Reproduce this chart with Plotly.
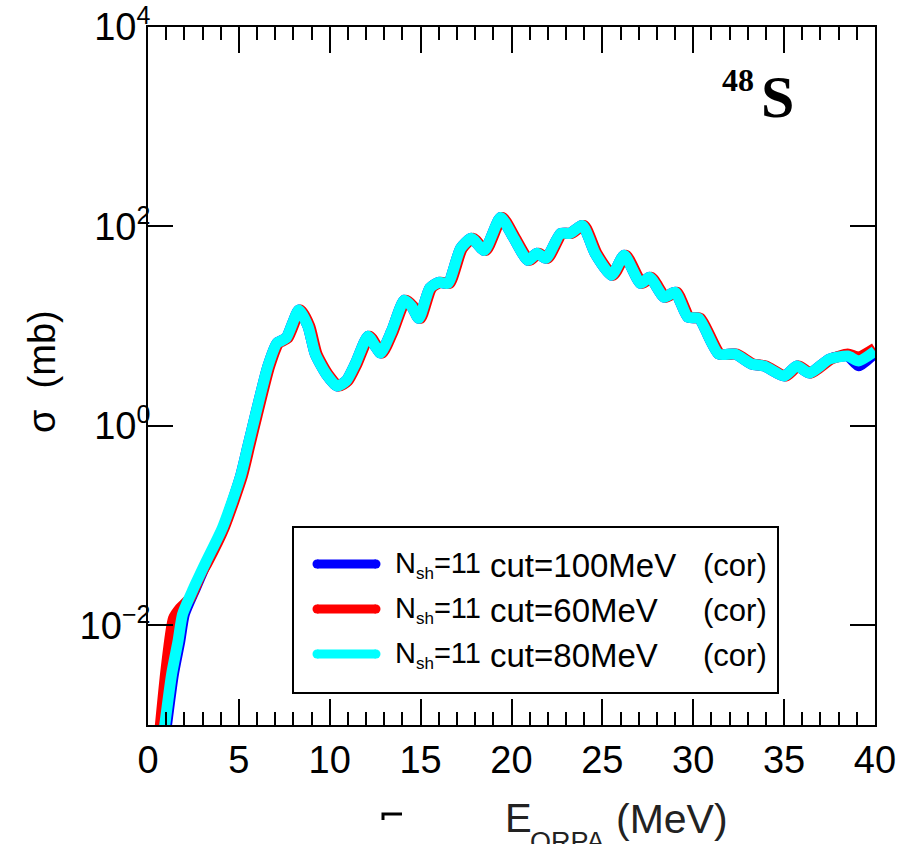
import plotly.graph_objects as go

# ---------------- data ----------------
E_cyan = [0.85, 1.3, 1.65, 1.9, 2.5, 3.2, 4.1, 5.1, 5.5, 5.9, 6.6, 7.1, 7.6, 8.3, 8.8, 9.2, 9.8,
          10.4, 10.9, 11.4, 12.1, 12.5, 12.8, 13.4, 14.1, 14.5, 14.9, 15.5, 16.0, 16.5, 17.2,
          17.8, 18.5, 19.4, 20.1, 20.9, 21.4, 21.9, 22.7, 23.2, 23.9, 24.6, 25.5, 26.2, 27.1,
          27.6, 28.4, 29.0, 29.7, 30.3, 31.4, 32.3, 33.2, 33.9, 35.0, 35.7, 36.4, 37.5, 38.5,
          39.1, 40.0]
sig_cyan = [7.9e-4, 3.24e-3, 6.9e-3, 0.0129, 0.0234, 0.0437, 0.0955, 0.316, 0.631, 1.26, 3.98,
            6.76, 7.59, 14.5, 10.0, 5.25, 3.31, 2.51, 2.82, 4.17, 7.94, 6.31, 5.37, 8.91, 18.2,
            15.8, 12.0, 24.0, 27.5, 26.9, 60.3, 75.9, 57.5, 123, 77.6, 45.7, 53.7, 47.9, 85.1,
            85.1, 102, 53.7, 32.4, 51.3, 26.9, 30.9, 19.5, 21.9, 12.3, 12.0, 5.25, 5.25, 4.17,
            3.98, 3.16, 3.98, 3.39, 4.68, 5.01, 4.47, 5.62]

E_blue = [0.95, 1.4, 1.75, 2.0, 2.6, 3.25, 4.15, 5.1, 5.5, 5.9, 6.6, 7.1, 7.6, 8.3, 8.8, 9.2, 9.8,
          10.4, 10.9, 11.4, 12.1, 12.5, 12.8, 13.4, 14.1, 14.5, 14.9, 15.5, 16.0, 16.5, 17.2,
          17.8, 18.5, 19.4, 20.1, 20.9, 21.4, 21.9, 22.7, 23.2, 23.9, 24.6, 25.5, 26.2, 27.1,
          27.6, 28.4, 29.0, 29.7, 30.3, 31.4, 32.3, 33.2, 33.9, 35.0, 35.7, 36.4, 37.5, 38.5,
          39.1, 40.0]
sig_blue = [7.9e-4, 3.24e-3, 6.9e-3, 0.0129, 0.0234, 0.0437, 0.0955, 0.316, 0.631, 1.26, 3.98,
            6.76, 7.59, 14.5, 10.0, 5.25, 3.31, 2.51, 2.82, 4.17, 7.94, 6.31, 5.37, 8.91, 18.2,
            15.8, 12.0, 24.0, 27.5, 26.9, 60.3, 75.9, 57.5, 123, 77.6, 45.7, 53.7, 47.9, 85.1,
            85.1, 102, 53.7, 32.4, 51.3, 26.9, 30.9, 19.5, 21.9, 12.3, 12.0, 5.25, 5.25, 4.17,
            3.98, 3.16, 3.98, 3.39, 4.68, 5.01, 4.0, 5.4]

E_red = [0.6, 1.0, 1.4, 1.77, 2.3, 2.9, 3.3, 4.2, 5.2, 5.6, 6.0, 6.7, 7.2, 7.7, 8.4, 8.9, 9.3, 9.9,
         10.5, 11.0, 11.5, 12.2, 12.6, 12.9, 13.5, 14.2, 14.6, 15.0, 15.6, 16.1, 16.6, 17.3,
         17.9, 18.6, 19.5, 20.2, 21.0, 21.5, 22.0, 22.8, 23.3, 24.0, 24.7, 25.6, 26.3, 27.2,
         27.7, 28.5, 29.1, 29.8, 30.4, 31.5, 32.4, 33.3, 34.0, 35.1, 35.8, 36.5, 37.6, 38.5,
         39.1, 40.0]
sig_red = [7.0e-4, 3.7e-3, 0.0117, 0.0148, 0.0186, 0.0324, 0.0437, 0.0955, 0.316, 0.631, 1.26,
           3.98, 6.76, 7.59, 14.5, 10.0, 5.25, 3.31, 2.51, 2.82, 4.17, 7.94, 6.31, 5.37, 8.91,
           18.2, 15.8, 12.0, 24.0, 27.5, 26.9, 60.3, 75.9, 57.5, 123, 77.6, 45.7, 53.7, 47.9,
           85.1, 85.1, 102, 53.7, 32.4, 51.3, 26.9, 30.9, 19.5, 21.9, 12.3, 12.0, 5.25, 5.25,
           4.17, 3.98, 3.16, 3.98, 3.39, 4.68, 5.25, 4.9, 6.0]

series_shells = ["N<sub>sh</sub>=11", "N<sub>sh</sub>=11", "N<sub>sh</sub>=11"]
series_cuts = ["cut=100MeV", "cut=60MeV", "cut=80MeV"]
series_tag = "(cor)"
series_colors = ["#0000ff", "#ff0000", "#00ffff"]
y_tickvals = [1e-2, 1, 1e2, 1e4]
y_ticktext = ["10<sup><span style='font-size:25px'>−2</span></sup>",
              "10<sup><span style='font-size:25px'>0</span></sup>",
              "10<sup><span style='font-size:25px'>2</span></sup>",
              "10<sup><span style='font-size:25px'>4</span></sup>"]
x_tickvals = [0, 5, 10, 15, 20, 25, 30, 35, 40]

# ---------------- layout helpers (pixel -> paper) ----------------
L, R, T, B = 148, 875, 27, 725
W, H = 909, 844


def px(x):
    return (x - L) / (R - L)


def py(y):
    return (B - y) / (B - T)


SANS = "Liberation Sans, Arial, sans-serif"
fig = go.Figure()
for E, s, c in [(E_blue, sig_blue, series_colors[0]), (E_red, sig_red, series_colors[1]),
                (E_cyan, sig_cyan, series_colors[2])]:
    fig.add_trace(go.Scatter(x=E, y=s, mode="lines", line=dict(color=c, width=11, shape="spline",
                                                                smoothing=0.6),
                             showlegend=False, hoverinfo="skip"))

shapes = []
annotations = []
# legend box
shapes.append(dict(type="rect", xref="paper", yref="paper", x0=px(293), x1=px(778), y0=py(527),
                   y1=py(693), line=dict(color="black", width=2), fillcolor="white", layer="above"))
leg_y = [564, 609, 654]
for shell, cut, col, yy in zip(series_shells, series_cuts, series_colors, leg_y):
    shapes.append(dict(type="line", xref="paper", yref="paper", x0=px(317), x1=px(376), y0=py(yy),
                       y1=py(yy), line=dict(color=col, width=9), layer="above"))
    for xc in (317, 376):
        shapes.append(dict(type="circle", xref="paper", yref="paper", xsizemode="pixel",
                           ysizemode="pixel", xanchor=px(xc), yanchor=py(yy), x0=-4.5, x1=4.5,
                           y0=-4.5, y1=4.5, fillcolor=col, line=dict(width=0), layer="above"))
    annotations.append(dict(xref="paper", yref="paper", x=px(393), y=py(yy + 1), xanchor="left",
                            yanchor="middle", showarrow=False,
                            text=shell.replace("<sub>sh</sub>",
                                               "<sub><span style='font-size:17px'>sh</span></sub>"),
                            font=dict(family=SANS, size=29, color="black")))
    annotations.append(dict(xref="paper", yref="paper", x=px(488), y=py(yy + 1), xanchor="left",
                            yanchor="middle", showarrow=False, text=cut,
                            font=dict(family=SANS, size=33, color="black")))
    annotations.append(dict(xref="paper", yref="paper", x=px(701), y=py(yy + 1), xanchor="left",
                            yanchor="middle", showarrow=False, text=series_tag,
                            font=dict(family=SANS, size=31, color="black")))

# nucleus label
annotations.append(dict(xref="paper", yref="paper", x=px(759), y=py(97), xanchor="left",
                        yanchor="middle", showarrow=False, text="<b>S</b>",
                        font=dict(family="Liberation Serif, serif", size=60, color="black")))
annotations.append(dict(xref="paper", yref="paper", x=px(720), y=py(80), xanchor="left",
                        yanchor="middle", showarrow=False, text="<b>48</b>",
                        font=dict(family="Liberation Serif, serif", size=32, color="black")))
# axis titles
annotations.append(dict(xref="paper", yref="paper", x=px(42), y=py(372), xanchor="center",
                        yanchor="middle", showarrow=False, text="σ  (mb)", textangle=-90,
                        font=dict(family=SANS, size=38, color="black")))
annotations.append(dict(xref="paper", yref="paper", x=px(503), y=py(794), xanchor="left",
                        yanchor="top", showarrow=False, text="E",
                        font=dict(family=SANS, size=40, color="#222222")))
annotations.append(dict(xref="paper", yref="paper", x=px(528), y=py(825), xanchor="left",
                        yanchor="top", showarrow=False, text="QRPA",
                        font=dict(family=SANS, size=27, color="#222222")))
annotations.append(dict(xref="paper", yref="paper", x=px(614), y=py(794), xanchor="left",
                        yanchor="top", showarrow=False, text="(MeV)",
                        font=dict(family=SANS, size=41, color="#222222")))
# small stray mark below the axis
shapes.append(dict(type="path", xref="paper", yref="paper",
                   path="M %f,%f L %f,%f L %f,%f" % (px(383), py(820), px(383), py(814), px(402),
                                                    py(814)),
                   line=dict(color="black", width=3)))

fig.update_layout(
    width=W, height=H, margin=dict(l=L, r=W - R, t=T, b=H - B),
    paper_bgcolor="white", plot_bgcolor="white", showlegend=False,
    shapes=shapes, annotations=annotations,
    xaxis=dict(range=[0, 40], tickvals=x_tickvals, ticks="inside", ticklen=26, tickwidth=2,
               tickcolor="black", showline=True, linecolor="black", linewidth=2, mirror="allticks",
               showgrid=False, zeroline=False, automargin=False,
               tickfont=dict(family=SANS, size=38, color="black"),
               minor=dict(dtick=1, tick0=0, ticks="inside", ticklen=13, tickwidth=1.5,
                          tickcolor="black", showgrid=False)),
    yaxis=dict(type="log", range=[-3, 4], tickvals=y_tickvals, ticktext=y_ticktext,
               ticks="inside", ticklen=25, tickwidth=2, tickcolor="black", showline=True,
               linecolor="black", linewidth=2, mirror="allticks", showgrid=False, zeroline=False,
               automargin=False, ticklabelstandoff=-12,
               tickfont=dict(family=SANS, size=38, color="black")),
)

fig.write_html("out.html", config={"displayModeBar": False},
               post_script="document.body.style.margin='0';")
